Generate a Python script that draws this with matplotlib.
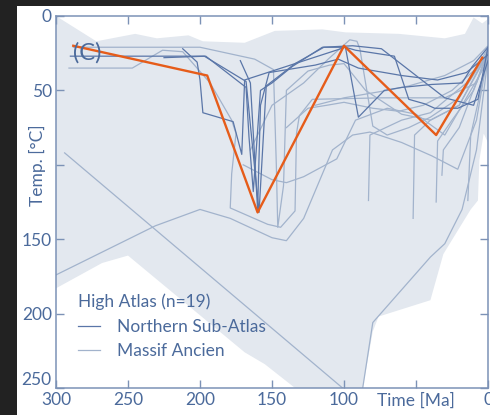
import matplotlib
matplotlib.use("Agg")
import matplotlib.pyplot as plt
from matplotlib.patches import Rectangle
from matplotlib.lines import Line2D

plt.rcParams['font.family'] = ['Lato', 'DejaVu Sans']

# envelope of all tT paths (Ma, degC), upper edge then lower edge
env_time = [300, 272, 245, 230, 208, 198, 169, 148, 115, 99, 62, 30, 16, 10, 4, 0,
            0, 3, 6, 7, 12, 31, 40, 76, 80, 87, 134, 155, 169, 250, 268, 300]
env_temp = [0, 17, 12, 15, 13, 17, 18, 10, 9, 11, 12, 15, 12, 1, 5, 2,
            85, 79, 97, 124, 130, 160, 191, 202, 212, 250, 250, 234, 226, 161, 166, 183]

# Northern Sub-Atlas paths
north_paths = [
    ([290, 197, 168, 159, 154, 134, 114, 99, 92, 65, 55, 44, 37, 21, 7, 0],
     [27, 27, 44, 132, 47, 32, 21, 21, 23, 27, 56, 59, 62, 62, 56, 21]),
    ([212, 202, 200, 198, 177, 171, 169, 99, 90, 72, 60, 39, 18, 11, 0],
     [22, 31, 43, 65, 71, 93, 43, 21, 68, 50, 48, 46, 45, 34, 21]),
    ([225, 196, 168, 166, 163, 158, 150, 136, 115, 94, 74, 50, 30, 10, 0],
     [28, 27, 48, 81, 118, 50, 45, 34, 21, 20, 22, 40, 55, 60, 30]),
    ([172, 165, 160, 158, 152, 120, 104, 90, 60, 35, 15, 0],
     [30, 45, 130, 60, 38, 33, 29, 35, 40, 43, 38, 26]),
]

# Massif Ancien paths
massif_paths = [
    ([294, 101], [92, 250]),
    ([300, 231, 200, 179, 150, 140, 128, 108, 94, 82, 60, 39, 21, 8, 0],
     [174, 141, 130, 136, 149, 151, 136, 90, 80, 78, 85, 94, 103, 70, 25]),
    ([291, 247, 226, 212, 193, 178, 175, 178, 179, 153, 144, 134, 133, 131, 122, 74, 30, 8, 0],
     [35, 35, 23, 24, 45, 70, 79, 106, 129, 140, 142, 131, 79, 67, 56, 55, 55, 45, 22]),
    ([288, 200, 162, 149, 147, 146, 142, 140, 125, 110, 100, 85, 60, 40, 20, 0],
     [21, 21, 29, 36, 100, 142, 114, 50, 37, 33, 32, 50, 66, 70, 60, 24]),
    ([165, 150, 128, 111, 96, 91, 89, 80, 70, 55, 40, 20, 0],
     [90, 60, 45, 29, 16, 17, 22, 74, 80, 75, 68, 55, 24]),
    ([87, 80, 40, 30, 18, 8, 0], [250, 206, 162, 153, 130, 90, 28]),
    ([52, 51, 40, 20, 0], [136, 80, 70, 60, 25]),
    ([36, 35, 25, 10, 0], [125, 84, 70, 50, 25]),
    ([83, 82, 60, 40, 15, 0], [124, 80, 70, 65, 45, 22]),
    ([14, 12, 5, 0], [124, 80, 50, 22]),
    ([32, 31, 20, 0], [107, 90, 75, 24]),
    ([120, 100, 70, 55, 30, 10, 0], [60, 55, 50, 47, 40, 30, 20]),
    ([140, 125, 112, 100, 80, 62, 45, 25, 0], [75, 62, 60, 58, 62, 64, 60, 50, 28]),
    ([170, 150, 140, 128, 105, 92, 70, 50, 30, 0], [100, 110, 112, 108, 96, 70, 62, 66, 80, 30]),
]

# preferred (model) path
best_time = [288, 195, 160, 100, 36, 4]
best_temp = [20, 40, 132, 20, 80, 28]

x_ticks = [300, 250, 200, 150, 100, 50, 0]
x_labels = ['300', '250', '200', '150', '100', 'Time [Ma]', '0']
y_ticks = [0, 50, 100, 150, 200, 250]
y_labels = ['0', '50', '', '150', '200', '250']

txt = '#4b6a9b'
spine = '#7c92b6'
dark = '#5a76a8'
light = '#a2b3cc'

fig = plt.figure(figsize=(4.9, 4.15), dpi=100)
fig.patch.set_facecolor('#222222')
fig.add_artist(Rectangle((17 / 490, 0), 1, 1 - 6 / 415, transform=fig.transFigure,
                         facecolor='white', edgecolor='none', zorder=-10))

ax = fig.add_axes([56 / 490, 1 - 388 / 415, 432 / 490, 372 / 415])
ax.fill(env_time, env_temp, color='#e3e8ef', lw=0, zorder=1)

for t, T in massif_paths:
    ax.plot(t, T, color=light, lw=0.9, zorder=2)
for t, T in north_paths:
    ax.plot(t, T, color=dark, lw=0.9, zorder=3)

ax.plot(best_time, best_temp, color='#e65c1a', lw=1.7, zorder=5)

ax.set_xlim(300, 0)
ax.set_ylim(250, 0)
ax.set_xticks(x_ticks)
ax.set_xticklabels(x_labels)
ax.set_yticks(y_ticks)
ax.set_yticklabels(y_labels)
ax.tick_params(direction='in', top=True, right=True, length=6, width=1,
               color=spine, labelcolor=txt, labelsize=12.5)
ax.tick_params(axis='x', pad=3)
ax.tick_params(axis='y', pad=3)
ax.get_yticklabels()[-1].set_verticalalignment('bottom')
for s in ax.spines.values():
    s.set_color(spine)
    s.set_linewidth(1.1)

ax.text(-0.043, 100, 'Temp. [°C]', transform=ax.get_yaxis_transform(), rotation=90,
        ha='center', va='center', color=txt, fontsize=12.5)
ax.text(0.072, 0.9, '(C)', transform=ax.transAxes, ha='center', va='center',
        color=txt, fontsize=17, zorder=6)

handles = [Line2D([], [], color=dark, lw=0.9), Line2D([], [], color=light, lw=0.9)]
leg = ax.legend(handles, ['Northern Sub-Atlas', 'Massif Ancien'], title='High Atlas (n=19)',
                loc='lower left', bbox_to_anchor=(0.015, 0.035), frameon=False,
                fontsize=12.5, title_fontsize=12.5, handlelength=1.25, handletextpad=1.0,
                labelspacing=0.5)
leg._legend_box.align = 'left'
leg.get_title().set_color(txt)
for t in leg.get_texts():
    t.set_color(txt)

fig.savefig('out.png', dpi=100, facecolor=fig.get_facecolor())
